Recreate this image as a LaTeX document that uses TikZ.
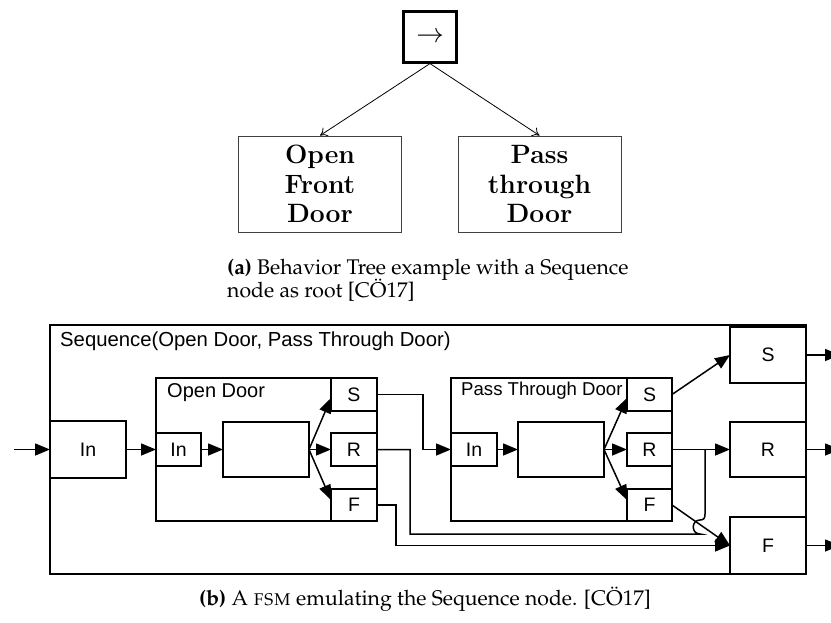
\documentclass[tikz,border=0pt]{standalone}
\usepackage[T1]{fontenc}
\usepackage{fontspec}
\usepackage{graphicx}
\usetikzlibrary{arrows.meta,calc}
\newfontfamily\diagsans{Liberation Sans}
\newcommand\capfont{\fontencoding{T1}\fontfamily{ppl}\selectfont}

\begin{document}
\begin{tikzpicture}[x=1pt,y=-1pt,
  blk/.style={draw, line width=1.5pt, inner sep=0pt, outer sep=0pt,
    font=\diagsans\fontsize{19.5}{23}\selectfont},
  ttl/.style={anchor=base west, inner sep=0pt,
    font=\diagsans\fontsize{20}{24}\selectfont},
  wire/.style={line width=1.5pt},
  arr/.style={line width=1.5pt, -{Triangle[length=15pt,width=12pt]}},
  tbox/.style={draw=black!75, line width=0.9pt, inner sep=0pt,
    minimum width=163pt, minimum height=96pt, align=center,
    font=\fontsize{26.5}{29.5}\selectfont\bfseries},
  tarr/.style={line width=0.8pt, -{To[length=7pt,width=10pt]}},
  captxt/.style={anchor=base west, inner sep=0pt,
    font=\capfont\fontsize{21.2}{24}\selectfont}]
\useasboundingbox (0,0) rectangle (831,623);

% ---------- behavior tree ----------
\node[draw, line width=2.2pt, inner sep=0pt, minimum width=53pt, minimum height=51pt]
  (root) at (430,37) {\scalebox{2.75}{$\rightarrow$}};
\node[tbox] (open) at (320,184) {Open\\Front\\Door};
\node[tbox] (pass) at (539.5,184) {Pass\\through\\Door};
\draw[tarr] (root.south) -- (open.north);
\draw[tarr] (root.south) -- (pass.north);

\node[captxt] (capa1) at (227,274) {\textbf{(a)} Behavior Tree example with a Sequence};
\node[captxt] (capa2) at (227,298) {node as root [C\"O17]};

% ---------- state machine ----------
\node[blk, minimum width=756pt, minimum height=249pt] (seq) at (428,449.5) {};
\node[ttl, font=\diagsans\fontsize{20.3}{24}\selectfont] (seqT) at (60,346)
  {Sequence(Open Door, Pass Through Door)};

\node[blk, minimum width=76pt, minimum height=57pt] (inO) at (88,449.5) {In};

% Open Door
\node[blk, minimum width=221pt, minimum height=143pt] (od) at (266.5,449.5) {};
\node[ttl] (odT) at (167,397) {Open Door};
\node[blk, minimum width=45pt, minimum height=33pt] (odIn) at (178.5,449.5) {In};
\node[blk, minimum width=86pt, minimum height=55pt] (odM) at (266,449.5) {};
\node[blk, minimum width=46pt, minimum height=33pt] (odS) at (354,394.5) {S};
\node[blk, minimum width=46pt, minimum height=33pt] (odR) at (354,449.5) {R};
\node[blk, minimum width=46pt, minimum height=32pt] (odF) at (354,505) {F};

% Pass Through Door
\node[blk, minimum width=221pt, minimum height=143pt] (ptd) at (561.5,449.5) {};
\node[ttl, font=\diagsans\fontsize{18.6}{22}\selectfont] (ptdT) at (461,395) {Pass Through Door};
\node[blk, minimum width=46pt, minimum height=33pt] (ptdIn) at (474,449.5) {In};
\node[blk, minimum width=86pt, minimum height=55pt] (ptdM) at (561,449.5) {};
\node[blk, minimum width=45pt, minimum height=33pt] (ptdS) at (649.5,394.5) {S};
\node[blk, minimum width=45pt, minimum height=33pt] (ptdR) at (649.5,449.5) {R};
\node[blk, minimum width=45pt, minimum height=32pt] (ptdF) at (649.5,505) {F};

% outcome states
\node[blk, minimum width=76pt, minimum height=56pt] (rS) at (768,355) {S};
\node[blk, minimum width=76pt, minimum height=55pt] (rR) at (768,449.5) {R};
\node[blk, minimum width=76pt, minimum height=57pt] (rF) at (768,545.5) {F};

% entry
\coordinate (entry) at (14,449.5);
\draw[arr] (entry) -- (inO.west);
\draw[arr] (inO.east) -- (odIn.west);

% inside Open Door
\draw[arr] (odIn.east) -- (odM.west);
\draw[arr] (odM.east) -- ($(odS.south west)+(0,-13)$);
\draw[arr] (odM.east) -- (odR.west);
\draw[arr] (odM.east) -- ($(odF.north west)+(0,11)$);

% inside Pass Through Door
\draw[arr] (ptdIn.east) -- (ptdM.west);
\draw[arr] (ptdM.east) -- ($(ptdS.south west)+(0,-13)$);
\draw[arr] (ptdM.east) -- (ptdR.west);
\draw[arr] (ptdM.east) -- ($(ptdF.north west)+(0,11)$);

% links between the machines
\draw[arr] (odS.east) -- (423,394.5) |- (ptdIn.west);
\draw[wire] (odR.east) -- (410,449.5) -- (410,534) -- (700,534)
  .. controls (691,534) and (691,520) .. (700,520)
  .. controls (704,520) and (705,518) .. (705,514) -- (705,449.5);
\draw[arr] (odF.east) -- (396,505) |- (rF.west);
\draw[arr] (ptdS.east) -- (rS.west);
\draw[arr] (ptdR.east) -- (rR.west);
\draw[arr] (ptdF.east) -- (rF.west);

% exits
\draw[arr] (rS.east) -- ++(34,0);
\draw[arr] (rR.east) -- ++(34,0);
\draw[arr] (rF.east) -- ++(34,0);

\node[captxt] (capb) at (199,605) {\textbf{(b)} A \textsc{fsm} emulating the Sequence node. [C\"O17]};
\end{tikzpicture}
\end{document}
